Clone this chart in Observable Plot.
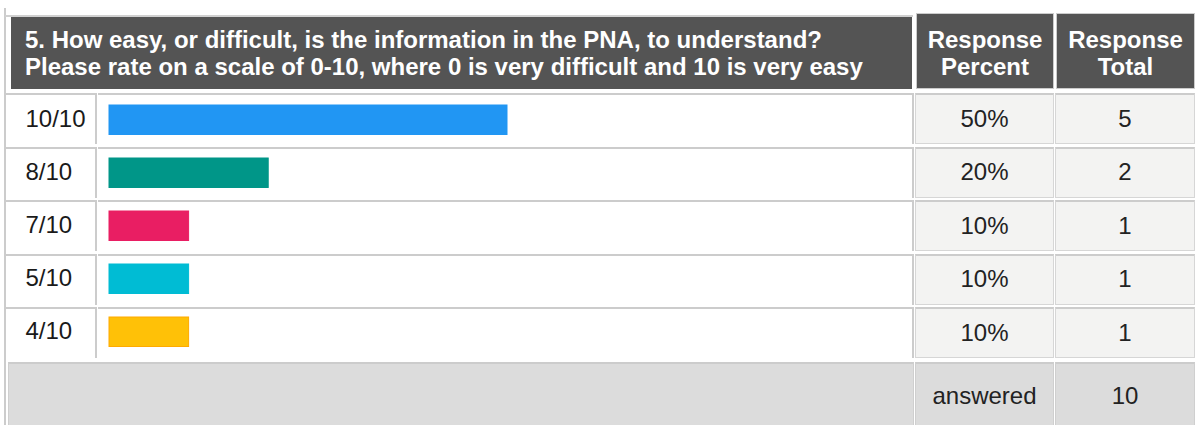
<!DOCTYPE html>
<html>
<head>
<meta charset="utf-8">
<script src="https://cdn.jsdelivr.net/npm/d3@7"></script>
<script src="https://cdn.jsdelivr.net/npm/@observablehq/plot@0.6"></script>
<style>
  html, body { margin: 0; padding: 0; background: #fff; }
  #wrap { position: relative; width: 1196px; height: 425px; overflow: hidden;
          font-family: "Liberation Sans", Arial, sans-serif; color: #222; }
  .abs { position: absolute; box-sizing: border-box; }
  .hdr { background: #545454; color: #fff; font-weight: bold; font-size: 24px; line-height: 27px; }
  .cellL { border-top: 2px solid #cccccc; border-right: 2px solid #cccccc; }
  .cellG { background: #f3f3f2; border: 1px solid #d6d6d6; border-top: 2px solid #cccccc;
           display: flex; align-items: center; justify-content: center; font-size: 24px; }
  .foot { background: #dcdcdc; border: 1px solid #cfcfcf; border-top: 2px solid #cccccc;
          display: flex; align-items: center; justify-content: center; font-size: 24px; }
</style>
</head>
<body>
<div id="wrap"></div>
<script>
// ---- data ----
const question = ["5. How easy, or difficult, is the information in the PNA, to understand?",
                  "Please rate on a scale of 0-10, where 0 is very difficult and 10 is very easy"];
const colHeaders = [["Response", "Percent"], ["Response", "Total"]];
const labels = ["10/10", "8/10", "7/10", "5/10", "4/10"];
const percents = [50, 20, 10, 10, 10];
const totals = [5, 2, 1, 1, 1];
const colors = ["#2196F3", "#009688", "#E91E63", "#00BCD4", "#FFC107"];
const strokes = ["#2196F3", "#009688", "#E91E63", "#00BCD4", "#FFAA00"];
const footerLabel = "answered";
const answered = 10;

// ---- layout ----
const wrap = document.getElementById("wrap");
function box(cls, x, y, w, h, html, style) {
  const d = document.createElement("div");
  d.className = "abs " + cls;
  Object.assign(d.style, {left: x + "px", top: y + "px", width: w + "px", height: h + "px"}, style || {});
  if (html != null) d.innerHTML = html;
  wrap.appendChild(d);
  return d;
}
// outer lines
box("", 4, 8, 2, 417, null, {background: "#cccccc"});
box("", 5, 15, 908, 2, null, {background: "#d0d0d0"});
// header
box("hdr", 11, 17, 901, 72, question.join("<br>"), {padding: "9px 0 0 14px"});
box("hdr", 916, 13, 138, 76, colHeaders[0].join("<br>"),
    {textAlign: "center", border: "1px solid #cccccc", paddingTop: "12px"});
box("hdr", 1056, 13, 139, 76, colHeaders[1].join("<br>"),
    {textAlign: "center", border: "1px solid #cccccc", paddingTop: "12px"});

const top0 = 93, rowH = 53.5, cellH = 51;
labels.forEach((lab, i) => {
  const T = top0 + i * rowH;
  box("cellL", 5, T, 92, cellH);
  box("cellL", 98, T, 816, cellH);
  box("cellG", 915, T, 139, cellH, percents[i] + "%", {paddingBottom: "1px"});
  box("cellG", 1055, T, 140, cellH, String(totals[i]), {paddingBottom: "1px"});
});
const FT = top0 + labels.length * rowH + 1;
box("foot", 8, FT, 906, 425 - FT + 2);
box("foot", 915, FT, 139, 425 - FT + 2, footerLabel, {paddingTop: "2px"});
box("foot", 1055, FT, 140, 425 - FT + 2, String(answered), {paddingTop: "2px"});

// ---- bars with Plot ----
const data = labels.map((label, i) => ({label, percent: percents[i], color: colors[i], stroke: strokes[i]}));
const plotW = 908, plotH = labels.length * rowH;
const chart = Plot.plot({
  width: plotW,
  height: plotH,
  margin: 0,
  style: {background: "transparent", overflow: "visible", fontFamily: "Liberation Sans, Arial, sans-serif"},
  x: {domain: [0, 100], range: [104, 900], axis: null},
  y: {domain: labels, range: [0, plotH], padding: 0, axis: null},
  marks: [
    Plot.barX(data, {x: "percent", y: "label", fill: "color", stroke: "stroke", strokeWidth: 1,
                     insetTop: 11, insetBottom: 12.5}),
    Plot.text(data, {y: "label", text: "label", frameAnchor: "left", dx: 20, dy: -2,
                     textAnchor: "start", fontSize: 24, fill: "#1a1a1a"})
  ]
});
Object.assign(chart.style, {position: "absolute", left: "5px", top: top0 + "px", pointerEvents: "none"});
wrap.appendChild(chart);
</script>
</body>
</html>
